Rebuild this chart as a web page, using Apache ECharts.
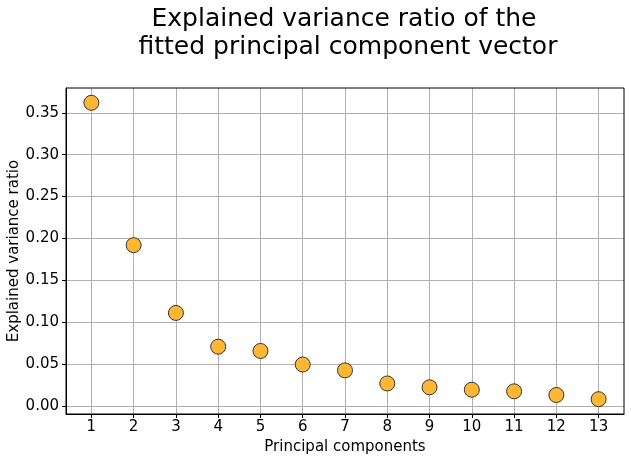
<!DOCTYPE html>
<html>
<head>
<meta charset="utf-8">
<script src="https://cdn.jsdelivr.net/npm/echarts@6/dist/echarts.min.js"></script>
<style>
  html, body { margin: 0; padding: 0; background: #fff; }
  #chart { width: 631px; height: 462px; }
</style>
</head>
<body>
<div id="chart"></div>
<script>
// principal component index and its explained variance ratio
const components = [1, 2, 3, 4, 5, 6, 7, 8, 9, 10, 11, 12, 13];
const varianceRatio = [0.362, 0.192, 0.111, 0.0707, 0.0656, 0.0494, 0.0424, 0.0268, 0.0222, 0.0193, 0.0174, 0.0130, 0.0080];
const yTicks = [0.00, 0.05, 0.10, 0.15, 0.20, 0.25, 0.30, 0.35];

const chart = echarts.init(document.getElementById('chart'));

const font = 'DejaVu Sans';

chart.setOption({
  animation: false,
  title: {
    text: 'Explained variance ratio of the\n fitted principal component vector',
    left: 339,
    top: 0,
    textAlign: 'center',
    textStyle: { fontFamily: font, fontSize: 25, fontWeight: 'normal', color: '#000', lineHeight: 28 }
  },
  grid: { left: 66, right: 7, top: 88, bottom: 48, outerBoundsMode: 'none', containLabel: false },
  xAxis: {
    type: 'value',
    min: 0.4,
    max: 13.6,
    name: 'Principal components',
    nameLocation: 'middle',
    nameGap: 26,
    nameMoveOverlap: false,
    nameTextStyle: { fontFamily: font, fontSize: 15, color: '#000' },
    axisLine: { onZero: false, lineStyle: { color: '#000', width: 1 } },
    axisTick: { length: 4, inside: false, lineStyle: { color: '#000' }, customValues: components },
    axisLabel: { fontFamily: font, fontSize: 15, color: '#000', margin: 6, customValues: components },
    splitLine: { show: true, lineStyle: { color: '#b0b0b0', width: 1 } }
  },
  yAxis: {
    type: 'value',
    min: -0.0097,
    max: 0.3797,
    name: 'Explained variance ratio',
    nameLocation: 'middle',
    nameGap: 44,
    nameMoveOverlap: false,
    nameTextStyle: { fontFamily: font, fontSize: 15, color: '#000' },
    axisLine: { show: true, onZero: false, lineStyle: { color: '#000', width: 1 } },
    axisTick: { show: true, length: 4, lineStyle: { color: '#000' }, customValues: yTicks },
    axisLabel: {
      fontFamily: font, fontSize: 15, color: '#000', margin: 7,
      customValues: yTicks,
      formatter: v => v.toFixed(2)
    },
    splitLine: { show: true, lineStyle: { color: '#b0b0b0', width: 1 } }
  },
  series: [{
    type: 'scatter',
    data: components.map((c, i) => [c, varianceRatio[i]]),
    symbolSize: 15,
    itemStyle: { color: '#ffb733', borderColor: '#333', borderWidth: 1, opacity: 1 }
  }],
  graphic: [{
    type: 'rect',
    shape: { x: 66, y: 88, width: 558, height: 326 },
    style: { fill: 'none', stroke: '#000', lineWidth: 1 },
    silent: true,
    z: 10
  }]
});
</script>
</body>
</html>
